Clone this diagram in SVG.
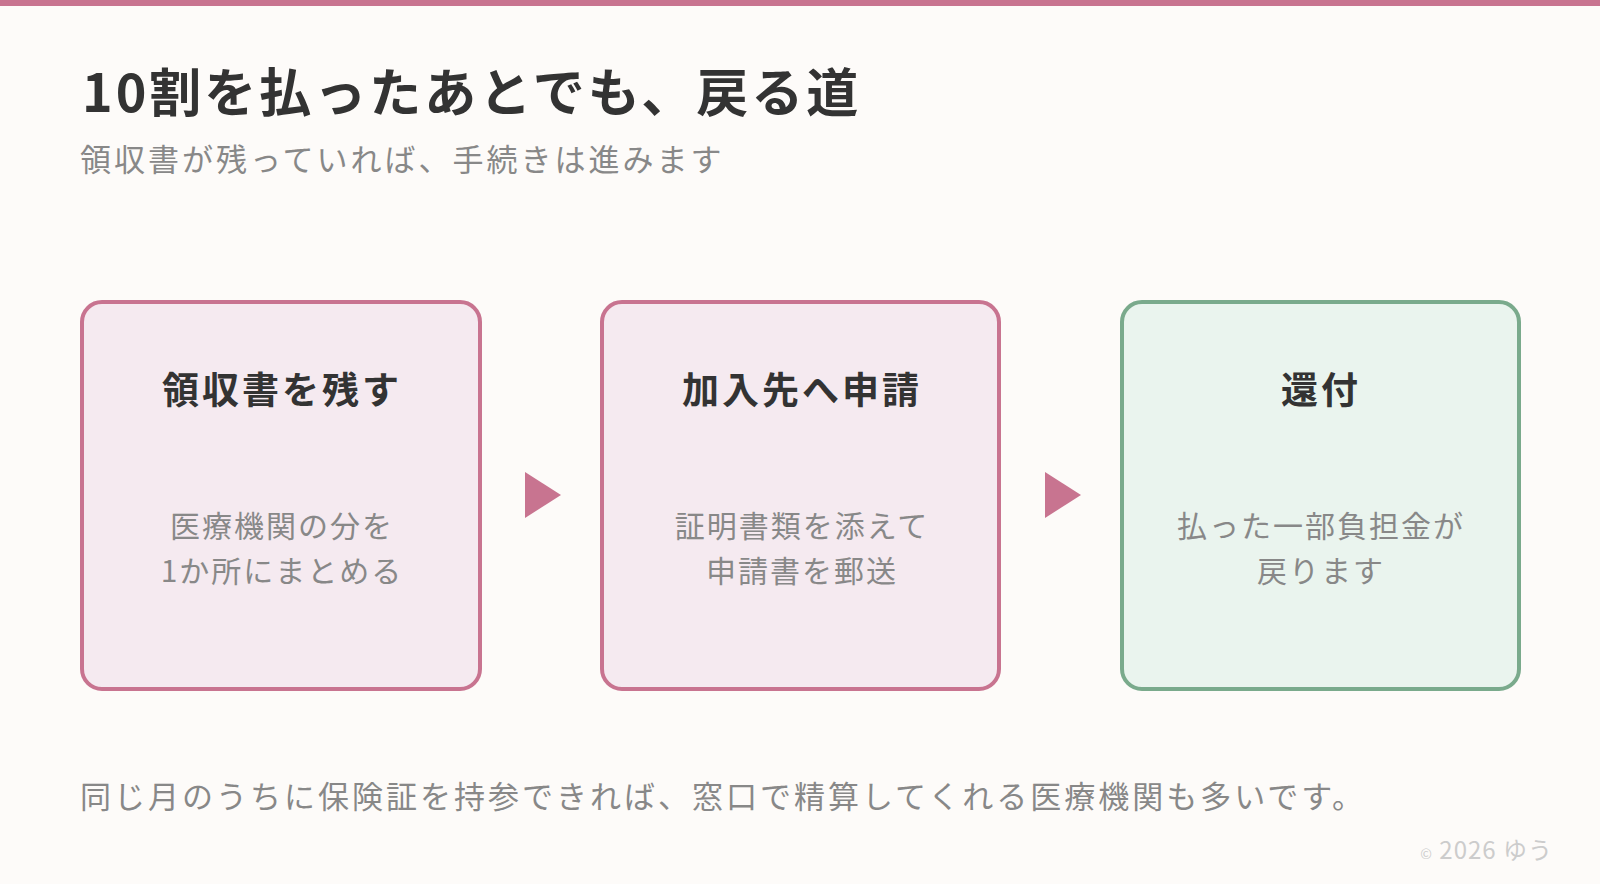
<svg xmlns="http://www.w3.org/2000/svg" width="1600" height="884" viewBox="0 0 1600 884">
<style>
text{font-family:"Noto Sans CJK JP","Noto Sans",sans-serif}
.t{font-size:52px;font-weight:700;fill:#333;letter-spacing:3px}
.s{font-size:31px;fill:#888;letter-spacing:3px}
.h{font-size:37px;font-weight:700;fill:#333;text-anchor:middle;letter-spacing:3px}
.b{font-size:30px;fill:#888;text-anchor:middle;letter-spacing:2px}
.pk{fill:#f5eaf0;stroke:#c87490;stroke-width:4}
.gr{fill:#eaf4ee;stroke:#7aaa8c;stroke-width:4}
.ar{fill:#c87490}
</style>
<rect width="1600" height="884" fill="#fdfbf9"/>
<rect width="1600" height="6" fill="#c87490"/>
<text class="t" x="82" y="112">10割を払ったあとでも、戻る道</text>
<text class="s" x="80" y="171">領収書が残っていれば、手続きは進みます</text>
<g id="node1"><rect class="pk" x="82" y="302" width="398" height="387" rx="20"/>
<text class="h" x="282" y="404">領収書を残す</text>
<text class="b" x="282" y="537">医療機関の分を</text><text class="b" x="282" y="582">1か所にまとめる</text></g>
<g id="node2"><rect class="pk" x="602" y="302" width="397" height="387" rx="20"/>
<text class="h" x="802" y="404">加入先へ申請</text>
<text class="b" x="802" y="537">証明書類を添えて</text><text class="b" x="802" y="582">申請書を郵送</text></g>
<g id="node3"><rect class="gr" x="1122" y="302" width="397" height="387" rx="20"/>
<text class="h" x="1321" y="404">還付</text>
<text class="b" x="1321" y="537">払った一部負担金が</text><text class="b" x="1321" y="582">戻ります</text></g>
<g id="connectors">
<polygon class="ar" points="525,472 561,495 525,518"/>
<polygon class="ar" points="1045,472 1081,495 1045,518"/>
</g>
<text class="s" x="80" y="808">同じ月のうちに保険証を持参できれば、窓口で精算してくれる医療機関も多いです。</text>
<text x="1553" y="859" text-anchor="end" style="font-size:24px;fill:#cccccc;letter-spacing:1px"><tspan style="font-size:14px">©</tspan> 2026 ゆう</text>
</svg>
